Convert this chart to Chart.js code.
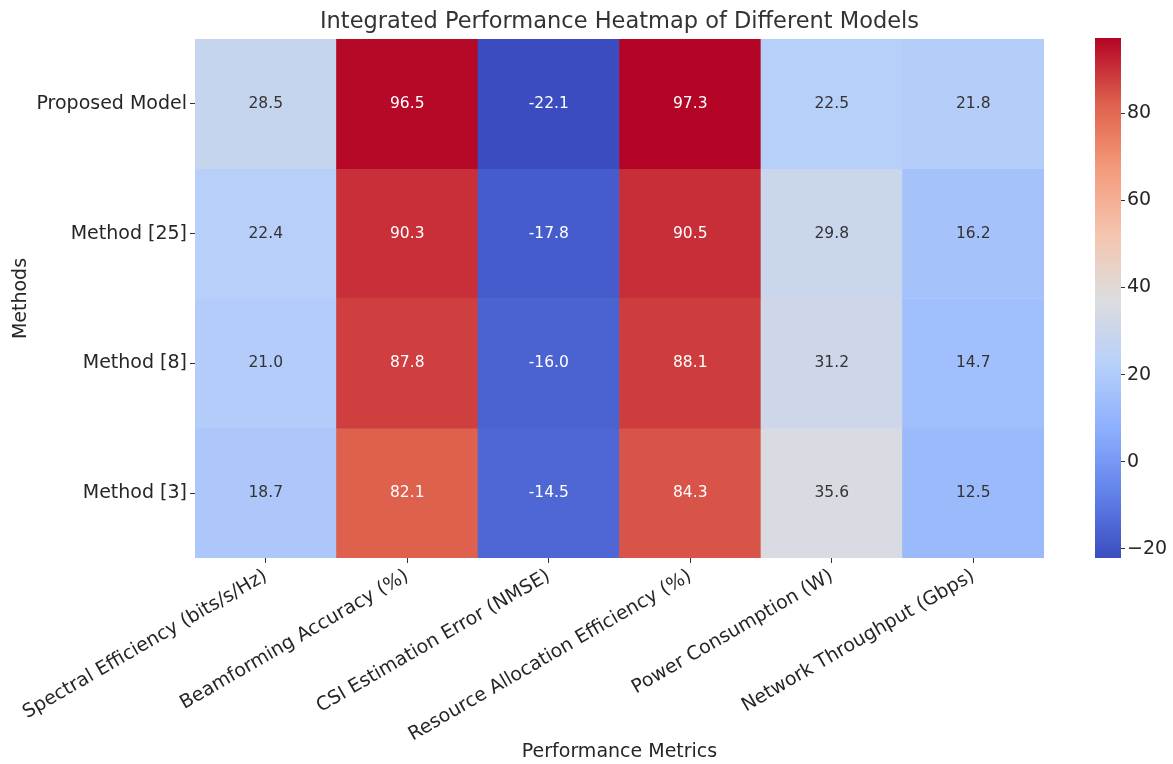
<!DOCTYPE html>
<html>
<head>
<meta charset="utf-8">
<script src="https://cdn.jsdelivr.net/npm/chart.js@4/dist/chart.umd.min.js"></script>
<style>
  body { margin: 0; background: #fff; }
  #wrap { position: relative; width: 1173px; height: 764px; }
  #wrap canvas { position: absolute; left: 0; top: 0; }
</style>
</head>
<body>
<div id="wrap">
  <canvas id="heat" width="1173" height="764"></canvas>
  <canvas id="bar" width="1173" height="764"></canvas>
</div>
<script>
// data
var metrics = ["Spectral Efficiency (bits/s/Hz)", "Beamforming Accuracy (%)", "CSI Estimation Error (NMSE)",
               "Resource Allocation Efficiency (%)", "Power Consumption (W)", "Network Throughput (Gbps)"];
var methods = ["Proposed Model", "Method [25]", "Method [8]", "Method [3]"];
var proposedModel = [28.5, 96.5, -22.1, 97.3, 22.5, 21.8];
var method25 = [22.4, 90.3, -17.8, 90.5, 29.8, 16.2];
var method8 = [21.0, 87.8, -16.0, 88.1, 31.2, 14.7];
var method3 = [18.7, 82.1, -14.5, 84.3, 35.6, 12.5];
var colorbarTicks = [-20, 0, 20, 40, 60, 80];

var rows = [proposedModel, method25, method8, method3];
var all = [].concat.apply([], rows);
var vmin = Math.min.apply(null, all);
var vmax = Math.max.apply(null, all);

var FONT = "'DejaVu Sans', sans-serif";
var TXT = "#262626";

// coolwarm stops
var cw = [
  [0.0, [59, 76, 192]], [0.125, [98, 130, 234]], [0.25, [141, 176, 254]], [0.375, [184, 208, 249]],
  [0.5, [221, 221, 221]], [0.625, [245, 196, 173]], [0.75, [244, 154, 123]], [0.875, [222, 96, 77]],
  [1.0, [180, 4, 38]]
];

function coolwarm(t) {
  t = Math.max(0, Math.min(1, t));
  for (var i = 1; i < cw.length; i++) {
    if (t <= cw[i][0]) {
      var a = cw[i - 1], b = cw[i];
      var f = (t - a[0]) / (b[0] - a[0]);
      return [0, 1, 2].map(function(k) { return Math.round(a[1][k] + f * (b[1][k] - a[1][k])); });
    }
  }
  return cw[cw.length - 1][1];
}

function rgb(c) { return "rgb(" + c[0] + "," + c[1] + "," + c[2] + ")"; }

function cellColor(v) { return coolwarm((v - vmin) / (vmax - vmin)); }

// same rule as seaborn for annotation colour
function textColor(c) {
  var lin = c.map(function(x) {
    x = x / 255;
    return x <= 0.03928 ? x / 12.92 : Math.pow((x + 0.055) / 1.055, 2.4);
  });
  var lum = 0.2126 * lin[0] + 0.7152 * lin[1] + 0.0722 * lin[2];
  return lum > 0.408 ? "#333333" : "#ffffff";
}

var datasets = rows.map(function(vals, r) {
  return {
    label: methods[r],
    data: vals.map(function() { return [r, r + 1]; }),
    values: vals,
    backgroundColor: vals.map(function(v) { return rgb(cellColor(v)); }),
    borderWidth: 0,
    grouped: false,
    barPercentage: 1,
    categoryPercentage: 1
  };
});

// numbers in cells + chart title
var heatText = {
  id: "heatText",
  afterDatasetsDraw: function(chart) {
    var ctx = chart.ctx;
    ctx.save();
    ctx.font = "15.5px " + FONT;
    ctx.textAlign = "center";
    ctx.textBaseline = "middle";
    chart.data.datasets.forEach(function(ds, r) {
      var meta = chart.getDatasetMeta(r);
      meta.data.forEach(function(el, i) {
        var v = ds.values[i];
        ctx.fillStyle = textColor(cellColor(v));
        ctx.fillText(v.toFixed(1), el.x, (el.y + el.base) / 2);
      });
    });
    var a = chart.chartArea;
    ctx.fillStyle = "#333333";
    ctx.font = "22.5px " + FONT;
    ctx.fillText("Integrated Performance Heatmap of Different Models", (a.left + a.right) / 2, 22);
    ctx.restore();
  }
};

new Chart(document.getElementById("heat"), {
  type: "bar",
  data: { labels: metrics, datasets: datasets },
  plugins: [heatText],
  options: {
    responsive: false,
    animation: false,
    layout: { padding: { top: 39, right: 129, left: 0, bottom: 0 } },
    plugins: { legend: { display: false }, tooltip: { enabled: false }, title: { display: false } },
    scales: {
      x: {
        border: { display: false },
        grid: { drawOnChartArea: false, drawTicks: true, tickLength: 5, offset: false, color: "#333" },
        ticks: { minRotation: 30, maxRotation: 30, padding: 2, color: TXT, font: { family: FONT, size: 19 } },
        title: { display: true, text: "Performance Metrics", color: TXT, font: { family: FONT, size: 19 }, padding: { top: 0, bottom: 1 } },
        afterFit: function(scale) { scale.height = 206; }
      },
      y: {
        min: 0, max: 4, reverse: true,
        border: { display: false },
        grid: { drawOnChartArea: false, drawTicks: true, tickLength: 5, color: "#333" },
        afterBuildTicks: function(scale) {
          scale.ticks = methods.map(function(m, i) { return { value: i + 0.5 }; });
        },
        ticks: {
          padding: 3, color: TXT, font: { family: FONT, size: 19 },
          callback: function(value, index) { return methods[index]; }
        },
        title: { display: true, text: "Methods", color: TXT, font: { family: FONT, size: 19 }, padding: { top: 10, bottom: 0 } },
        afterFit: function(scale) { scale.width = 195; }
      }
    }
  }
});

// colour bar, drawn on a second canvas lined up with the heatmap
new Chart(document.getElementById("bar"), {
  type: "bar",
  data: {
    labels: [""],
    datasets: [{
      data: [[vmin, vmax]],
      borderWidth: 0,
      barPercentage: 1,
      categoryPercentage: 1,
      backgroundColor: function(c) {
        var a = c.chart.chartArea;
        if (!a) return "#ddd";
        var g = c.chart.ctx.createLinearGradient(0, a.bottom, 0, a.top);
        cw.forEach(function(s) { g.addColorStop(s[0], rgb(s[1])); });
        return g;
      }
    }]
  },
  options: {
    responsive: false,
    animation: false,
    layout: { padding: { top: 38, bottom: 206, left: 1095, right: 0 } },
    plugins: { legend: { display: false }, tooltip: { enabled: false } },
    scales: {
      x: { display: false },
      y: {
        position: "right",
        min: vmin, max: vmax,
        border: { display: false },
        grid: { drawOnChartArea: false, drawTicks: true, tickLength: 4, color: "#333" },
        afterBuildTicks: function(scale) {
          scale.ticks = colorbarTicks.map(function(v) { return { value: v }; });
        },
        ticks: {
          padding: 2, color: TXT, font: { family: FONT, size: 19 },
          callback: function(value) { return value < 0 ? "\u2212" + Math.abs(value) : String(value); }
        },
        afterFit: function(scale) { scale.width = 52; }
      }
    }
  }
});
</script>
</body>
</html>
